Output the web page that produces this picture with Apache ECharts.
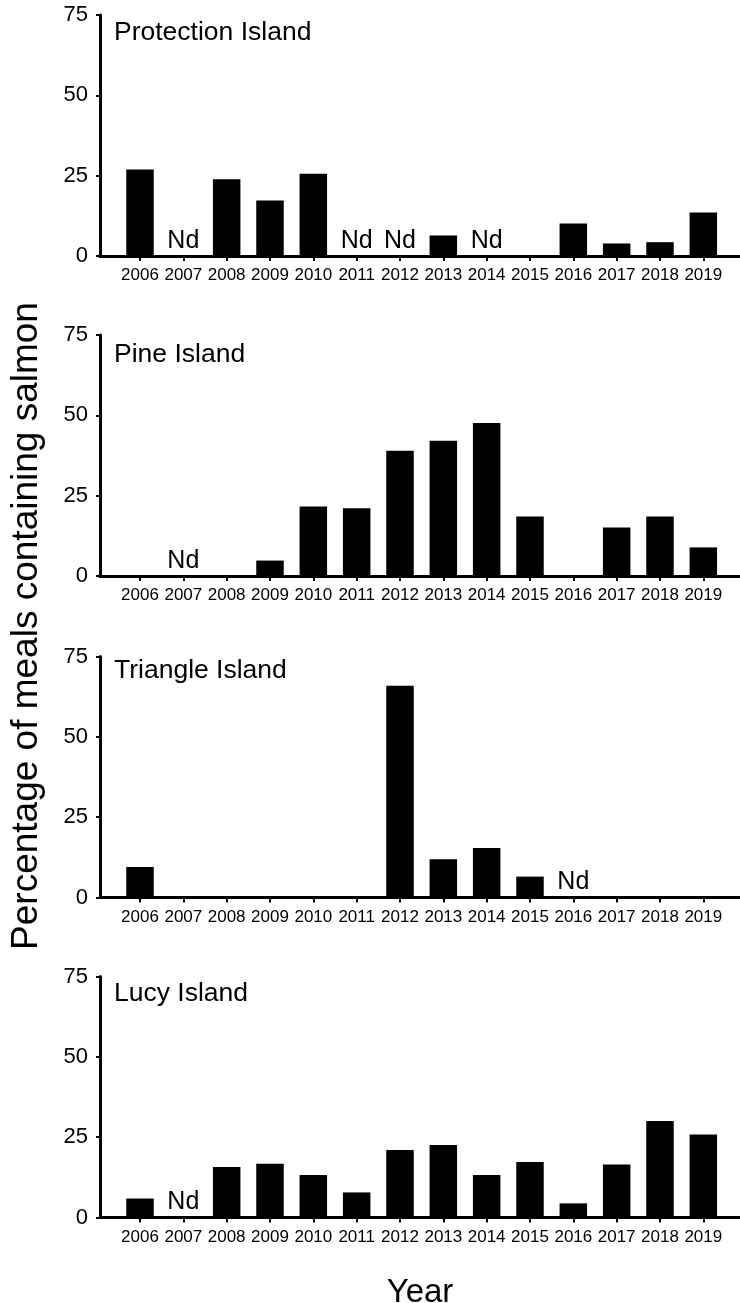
<!DOCTYPE html>
<html>
<head>
<meta charset="utf-8">
<title>Percentage of meals containing salmon</title>
<script src="https://cdn.jsdelivr.net/npm/echarts@6/dist/echarts.min.js"></script>
<style>
html,body{margin:0;padding:0;background:#fff;}
#chart{width:740px;height:1303px;}
</style>
</head>
<body>
<div id="chart"></div>
<script>
// x axis years
var years = [2006, 2007, 2008, 2009, 2010, 2011, 2012, 2013, 2014, 2015, 2016, 2017, 2018, 2019];
var yTicks = [0, 25, 50, 75];
var islands = ['Protection Island', 'Pine Island', 'Triangle Island', 'Lucy Island'];
// % of meals with salmon, null = no data (Nd)
var protection = [26.9, null, 23.9, 17.3, 25.6, null, null, 6.4, null, 0, 10.1, 3.9, 4.3, 13.5];
var pine = [0, null, 0, 4.8, 21.6, 21.1, 39.0, 42.1, 47.6, 18.5, 0, 15.1, 18.5, 8.9];
var triangle = [9.5, 0, 0, 0, 0, 0, 65.9, 11.9, 15.4, 6.5, null, 0, 0, 0];
var lucy = [5.9, null, 15.7, 16.7, 13.2, 7.8, 21.0, 22.6, 13.2, 17.3, 4.4, 16.5, 30.0, 25.8];
var ndText = 'Nd';
var yName = 'Percentage of meals containing salmon';
var xName = 'Year';

var values = [protection, pine, triangle, lucy];

var font = 'Arial, "Liberation Sans", sans-serif';
var panelTop = [15, 335, 656.5, 976.5];
var titleTop = [19, 341, 657, 980];
var panelH = 241;
var step = 43.333; // px per year
var xMin = years[0] - 40 / step;
var xMax = years[0] + 600 / step;

var myChart = echarts.init(document.getElementById('chart'));

var grids = [], xAxes = [], yAxes = [], titles = [], series = [];
for (var p = 0; p < 4; p++) {
	grids.push({left: 100, right: 0, top: panelTop[p], height: panelH, outerBoundsMode: 'none'});
	titles.push({
		text: islands[p], left: 114, top: titleTop[p], padding: 0,
		textStyle: {fontFamily: font, fontSize: 26.5, fontWeight: 'normal', color: '#000'}
	});
	xAxes.push({
		type: 'value', gridIndex: p, min: xMin, max: xMax,
		splitLine: {show: false},
		axisLine: {show: true, lineStyle: {color: '#000', width: 3}},
		axisTick: {show: true, length: 5, lineStyle: {color: '#000', width: 2}, customValues: years},
		axisLabel: {
			color: '#000', fontFamily: font, fontSize: 17, margin: 11,
			customValues: years,
			formatter: function (v) { return String(v); }
		},
		name: p == 3 ? xName : '',
		nameLocation: 'middle', nameGap: 59,
		nameTextStyle: {fontFamily: font, fontSize: 33, color: '#000'}
	});
	yAxes.push({
		type: 'value', gridIndex: p, min: yTicks[0], max: yTicks[yTicks.length - 1], interval: 25,
		splitLine: {show: false},
		axisLine: {show: true, lineStyle: {color: '#000', width: 3}},
		axisTick: {show: true, length: 4, lineStyle: {color: '#000', width: 2}},
		axisLabel: {color: '#000', fontFamily: font, fontSize: 22, margin: 12}
	});
	var bars = [], nd = [];
	for (var i = 0; i < years.length; i++) {
		if (values[p][i] === null) {
			nd.push([years[i], 0]);
		} else {
			bars.push([years[i], values[p][i]]);
		}
	}
	series.push({
		type: 'bar', xAxisIndex: p, yAxisIndex: p, data: bars,
		barWidth: 27.5,
		itemStyle: {color: '#000'}
	});
	series.push({
		type: 'scatter', xAxisIndex: p, yAxisIndex: p, data: nd,
		symbolSize: 1, itemStyle: {color: 'rgba(0,0,0,0)', opacity: 1},
		label: {
			show: true, position: 'top', distance: 2,
			formatter: ndText,
			color: '#000', fontFamily: font, fontSize: 25
		}
	});
}

var option = {
	animation: false,
	backgroundColor: '#fff',
	title: titles,
	grid: grids,
	xAxis: xAxes,
	yAxis: yAxes,
	series: series,
	graphic: [{
		type: 'text', x: 27, y: 626, rotation: Math.PI / 2,
		style: {text: yName, fontFamily: font, fontSize: 37, fill: '#000', align: 'center', verticalAlign: 'middle'}
	}]
};
if (option && typeof option === "object") {
	myChart.setOption(option, true);
}
</script>
</body>
</html>
